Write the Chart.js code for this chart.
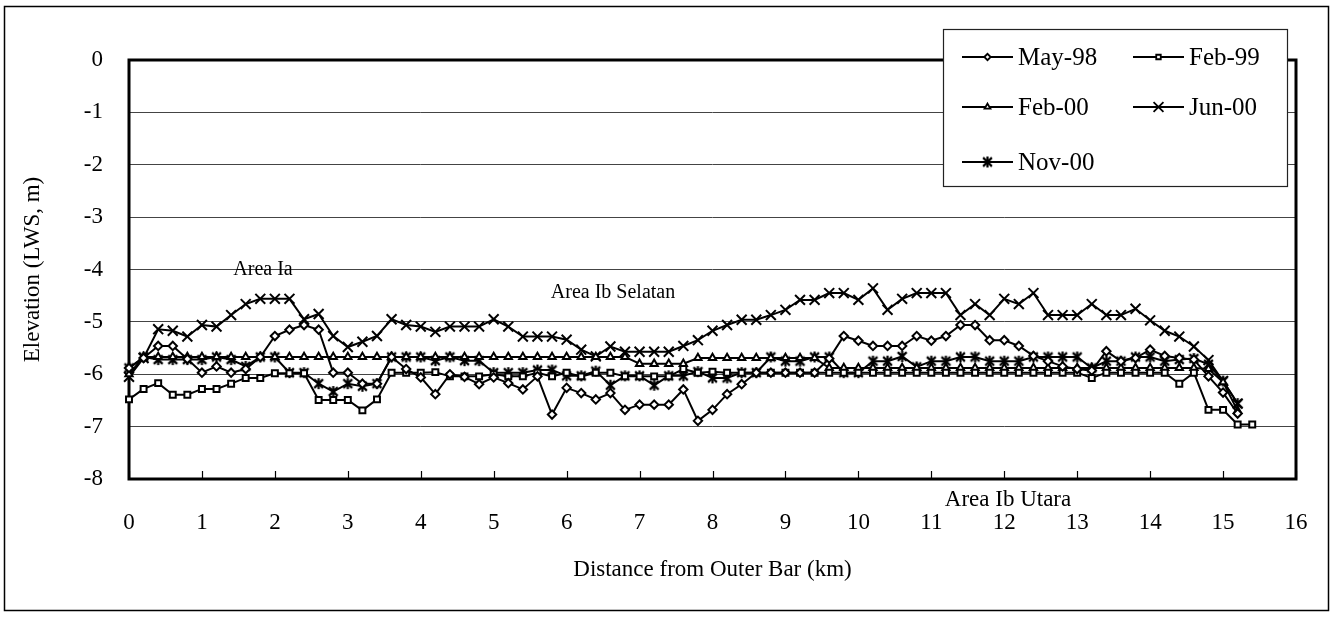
<!DOCTYPE html>
<html>
<head>
<meta charset="utf-8">
<script src="https://cdn.jsdelivr.net/npm/chart.js@4.4.1/dist/chart.umd.min.js"></script>
<style>
  html, body { margin: 0; padding: 0; background: #fff; }
  #wrap { position: relative; width: 1338px; height: 618px; }
  canvas { display: block; }
</style>
</head>
<body>
<div id="wrap"><canvas id="chart" width="1338" height="618"></canvas></div>
<script>
// Survey chainage along the channel (km from the outer bar)
const distanceKm = [
  0.0, 0.2, 0.4, 0.6, 0.8, 1.0, 1.2, 1.4, 1.6, 1.8,
  2.0, 2.2, 2.4, 2.6, 2.8, 3.0, 3.2, 3.4, 3.6, 3.8,
  4.0, 4.2, 4.4, 4.6, 4.8, 5.0, 5.2, 5.4, 5.6, 5.8,
  6.0, 6.2, 6.4, 6.6, 6.8, 7.0, 7.2, 7.4, 7.6, 7.8,
  8.0, 8.2, 8.4, 8.6, 8.8, 9.0, 9.2, 9.4, 9.6, 9.8,
  10.0, 10.2, 10.4, 10.6, 10.8, 11.0, 11.2, 11.4, 11.6, 11.8,
  12.0, 12.2, 12.4, 12.6, 12.8, 13.0, 13.2, 13.4, 13.6, 13.8,
  14.0, 14.2, 14.4, 14.6, 14.8, 15.0, 15.2, 15.4
];

// Bed elevation (m below LWS) for each survey
const may98 = [
  -5.88, -5.69, -5.46, -5.46, -5.71, -5.97, -5.85, -5.97, -5.90, -5.67,
  -5.27, -5.15, -5.06, -5.15, -5.97, -5.97, -6.18, -6.18, -5.67, -5.90,
  -6.06, -6.38, -6.00, -6.05, -6.19, -6.06, -6.17, -6.29, -6.04, -6.77,
  -6.26, -6.36, -6.48, -6.36, -6.68, -6.58, -6.58, -6.58, -6.29, -6.89,
  -6.68, -6.38, -6.19, -5.97, -5.97, -5.97, -5.97, -5.97, -5.70, -5.27,
  -5.36, -5.46, -5.46, -5.46, -5.27, -5.36, -5.27, -5.06, -5.06, -5.35,
  -5.35, -5.46, -5.65, -5.75, -5.85, -5.90, -5.93, -5.56, -5.75, -5.69,
  -5.53, -5.65, -5.69, -5.72, -6.04, -6.35, -6.75
];
const feb99 = [
  -6.48, -6.28, -6.17, -6.39, -6.39, -6.28, -6.28, -6.18, -6.07, -6.07,
  -5.98, -5.98, -5.98, -6.49, -6.49, -6.49, -6.69, -6.48, -5.97, -5.97,
  -5.97, -5.96, -6.04, -6.04, -6.04, -6.00, -6.04, -6.04, -5.97, -6.04,
  -5.97, -6.04, -5.97, -5.97, -6.04, -6.04, -6.04, -6.04, -5.90, -5.97,
  -5.95, -5.97, -5.97, -5.97, -5.97, -5.97, -5.97, -5.97, -5.97, -5.97,
  -5.97, -5.97, -5.97, -5.97, -5.97, -5.97, -5.97, -5.97, -5.97, -5.97,
  -5.97, -5.97, -5.97, -5.97, -5.97, -5.97, -6.07, -5.97, -5.97, -5.97,
  -5.97, -5.97, -6.18, -5.97, -6.68, -6.68, -6.96, -6.96
];
const feb00 = [
  -6.00, -5.67, -5.67, -5.67, -5.67, -5.67, -5.67, -5.67, -5.67, -5.67,
  -5.67, -5.67, -5.67, -5.67, -5.67, -5.67, -5.67, -5.67, -5.67, -5.67,
  -5.67, -5.67, -5.67, -5.67, -5.67, -5.67, -5.67, -5.67, -5.67, -5.67,
  -5.67, -5.67, -5.67, -5.67, -5.67, -5.80, -5.80, -5.80, -5.80, -5.69,
  -5.69, -5.69, -5.69, -5.69, -5.69, -5.69, -5.69, -5.69, -5.88, -5.88,
  -5.88, -5.88, -5.88, -5.88, -5.88, -5.88, -5.88, -5.88, -5.88, -5.88,
  -5.88, -5.88, -5.88, -5.88, -5.88, -5.88, -5.88, -5.88, -5.88, -5.88,
  -5.88, -5.88, -5.88, -5.88, -5.90, -6.15, -6.70
];
const jun00 = [
  -6.05, -5.69, -5.14, -5.17, -5.28, -5.06, -5.09, -4.87, -4.66, -4.56,
  -4.56, -4.56, -4.95, -4.85, -5.27, -5.48, -5.38, -5.27, -4.95, -5.06,
  -5.09, -5.19, -5.09, -5.09, -5.09, -4.95, -5.09, -5.28, -5.28, -5.28,
  -5.34, -5.53, -5.66, -5.47, -5.57, -5.57, -5.57, -5.57, -5.46, -5.35,
  -5.17, -5.06, -4.96, -4.96, -4.87, -4.77, -4.58, -4.58, -4.45, -4.45,
  -4.58, -4.36, -4.77, -4.56, -4.45, -4.45, -4.45, -4.87, -4.66, -4.87,
  -4.56, -4.66, -4.45, -4.87, -4.87, -4.87, -4.66, -4.87, -4.87, -4.75,
  -4.97, -5.17, -5.28, -5.47, -5.73, -6.13, -6.56
];
const nov00 = [
  -5.88, -5.67, -5.72, -5.72, -5.72, -5.72, -5.67, -5.72, -5.85, -5.67,
  -5.67, -5.97, -5.97, -6.18, -6.33, -6.18, -6.23, -6.18, -5.67, -5.67,
  -5.67, -5.74, -5.67, -5.74, -5.74, -5.97, -5.97, -5.97, -5.92, -5.92,
  -6.03, -6.03, -5.94, -6.21, -6.03, -6.03, -6.21, -6.03, -6.03, -5.95,
  -6.07, -6.07, -5.97, -5.97, -5.67, -5.75, -5.75, -5.67, -5.67, -5.97,
  -5.97, -5.75, -5.75, -5.66, -5.86, -5.75, -5.75, -5.67, -5.67, -5.75,
  -5.75, -5.75, -5.67, -5.67, -5.67, -5.67, -5.88, -5.75, -5.75, -5.67,
  -5.67, -5.75, -5.72, -5.70, -5.81, -6.13, -6.56
];

const seriesNames = ['May-98', 'Feb-99', 'Feb-00', 'Jun-00', 'Nov-00'];
const xTicks = [0, 1, 2, 3, 4, 5, 6, 7, 8, 9, 10, 11, 12, 13, 14, 15, 16];
const yTicks = [0, -1, -2, -3, -4, -5, -6, -7, -8];

const areaLabels = [
  { text: 'Area Ia', x: 263, y: 270, size: 20 },
  { text: 'Area Ib Selatan', x: 613, y: 293, size: 20 },
  { text: 'Area Ib Utara', x: 1008, y: 500, size: 23 }
];

const SERIF = '"Liberation Serif", "Times New Roman", serif';
const INK = '#000';

// Six-armed asterisk marker (vertical bar plus an X)
function makeAsterisk(size, lw) {
  const c = document.createElement('canvas');
  c.width = size; c.height = size;
  const g = c.getContext('2d');
  const m = size / 2, r = size / 2 - 1;
  g.strokeStyle = INK; g.lineWidth = lw; g.lineCap = 'butt';
  g.beginPath();
  g.moveTo(m, m - r); g.lineTo(m, m + r);
  const d = r * 0.8;
  g.moveTo(m - d, m - d); g.lineTo(m + d, m + d);
  g.moveTo(m + d, m - d); g.lineTo(m - d, m + d);
  g.stroke();
  return c;
}
const asterisk = makeAsterisk(13, 2.2);

function toPoints(ys) {
  return ys.map((v, i) => ({ x: distanceKm[i], y: v }));
}

const markerDefs = [
  { style: 'rectRot', radius: 4.2, legendRadius: 3.2 },
  { style: 'rect', radius: 4.2, legendRadius: 3.2 },
  { style: 'triangle', radius: 4.2, legendRadius: 3.4 },
  { style: 'crossRot', radius: 7, legendRadius: 7 },
  { style: asterisk, radius: 6, legendRadius: 6 }
];
const seriesValues = [may98, feb99, feb00, jun00, nov00];

const datasets = seriesValues.map((vals, k) => ({
  label: seriesNames[k],
  data: toPoints(vals),
  borderColor: INK,
  borderWidth: 2,
  backgroundColor: '#fff',
  pointStyle: markerDefs[k].style,
  pointRadius: markerDefs[k].radius,
  pointHoverRadius: markerDefs[k].radius,
  pointBorderColor: INK,
  pointBorderWidth: 2,
  pointBackgroundColor: '#fff',
  tension: 0,
  clip: 10
}));

// Frame around the whole figure and the plot area, plus inward x tick marks,
// area annotations and the boxed legend
const framePlugin = {
  id: 'frames',
  beforeDraw(chart) {
    const ctx = chart.ctx;
    ctx.save();
    ctx.fillStyle = '#fff';
    ctx.fillRect(0, 0, chart.width, chart.height);
    ctx.strokeStyle = INK;
    ctx.lineWidth = 1.5;
    ctx.strokeRect(4.5, 6.5, 1324, 604);
    ctx.restore();
  },
  beforeDatasetsDraw(chart) {
    const { ctx, chartArea: a, scales } = chart;
    ctx.save();
    ctx.strokeStyle = INK;
    ctx.lineWidth = 1.2;
    xTicks.forEach(t => {
      const px = Math.round(scales.x.getPixelForValue(t)) + 0.5;
      ctx.beginPath();
      ctx.moveTo(px, a.bottom);
      ctx.lineTo(px, a.bottom - 8);
      ctx.stroke();
    });
    ctx.lineWidth = 3;
    ctx.strokeRect(a.left, a.top, a.right - a.left, a.bottom - a.top);
    ctx.restore();
  },
  afterDraw(chart) {
    const ctx = chart.ctx;
    ctx.save();
    ctx.fillStyle = INK;
    ctx.textAlign = 'center';
    ctx.textBaseline = 'middle';
    areaLabels.forEach(l => {
      ctx.font = l.size + 'px ' + SERIF;
      ctx.fillText(l.text, l.x, l.y);
    });

    const L = { x: 943, y: 29, w: 344, h: 157 };
    ctx.fillStyle = '#fff';
    ctx.fillRect(L.x, L.y, L.w, L.h);
    ctx.strokeStyle = '#222';
    ctx.lineWidth = 1.2;
    ctx.strokeRect(L.x + 0.5, L.y + 0.5, L.w, L.h);

    const cols = [962, 1133];
    const rows = [57, 107, 162];
    seriesNames.forEach((name, k) => {
      const cx = cols[k % 2], cy = rows[Math.floor(k / 2)];
      ctx.strokeStyle = INK;
      ctx.lineWidth = 2;
      ctx.beginPath();
      ctx.moveTo(cx, cy);
      ctx.lineTo(cx + 51, cy);
      ctx.stroke();
      const ds = chart.data.datasets[k];
      ctx.fillStyle = '#fff';
      ctx.strokeStyle = INK;
      ctx.lineWidth = 1.8;
      Chart.helpers.drawPoint(ctx, {
        pointStyle: ds.pointStyle,
        radius: markerDefs[k].legendRadius,
        borderWidth: 1.8,
        rotation: 0
      }, cx + 25.5, cy);
      ctx.fillStyle = INK;
      ctx.font = '25px ' + SERIF;
      ctx.textAlign = 'left';
      ctx.textBaseline = 'middle';
      ctx.fillText(name, cx + 56, cy + 1);
    });
    ctx.restore();
  }
};

const ctx = document.getElementById('chart').getContext('2d');
new Chart(ctx, {
  type: 'line',
  data: { datasets },
  options: {
    responsive: false,
    animation: false,
    devicePixelRatio: 1,
    layout: { padding: { top: 60, right: 42, left: 0, bottom: 0 } },
    plugins: {
      legend: { display: false },
      tooltip: { enabled: false }
    },
    scales: {
      x: {
        type: 'linear',
        min: 0,
        max: 16,
        afterBuildTicks(s) { s.ticks = xTicks.map(v => ({ value: v })); },
        afterFit(s) { s.height = 139; },
        grid: { display: false, drawTicks: false },
        border: { display: false },
        ticks: {
          color: INK,
          font: { family: SERIF, size: 23 },
          padding: 30,
          maxRotation: 0,
          autoSkip: false
        },
        title: {
          display: true,
          text: 'Distance from Outer Bar (km)',
          color: INK,
          font: { family: SERIF, size: 23 },
          padding: { top: 0, bottom: 34 }
        }
      },
      y: {
        type: 'linear',
        min: -8,
        max: 0,
        afterBuildTicks(s) { s.ticks = yTicks.map(v => ({ value: v })); },
        afterFit(s) { s.width = 129; },
        grid: { color: '#444', lineWidth: 1, drawTicks: false },
        border: { display: false },
        ticks: {
          color: INK,
          font: { family: SERIF, size: 23 },
          padding: 26,
          autoSkip: false
        },
        title: {
          display: true,
          text: 'Elevation (LWS, m)',
          color: INK,
          font: { family: SERIF, size: 23 },
          padding: { top: 19, bottom: 0 }
        }
      }
    }
  },
  plugins: [framePlugin]
});
</script>
</body>
</html>
